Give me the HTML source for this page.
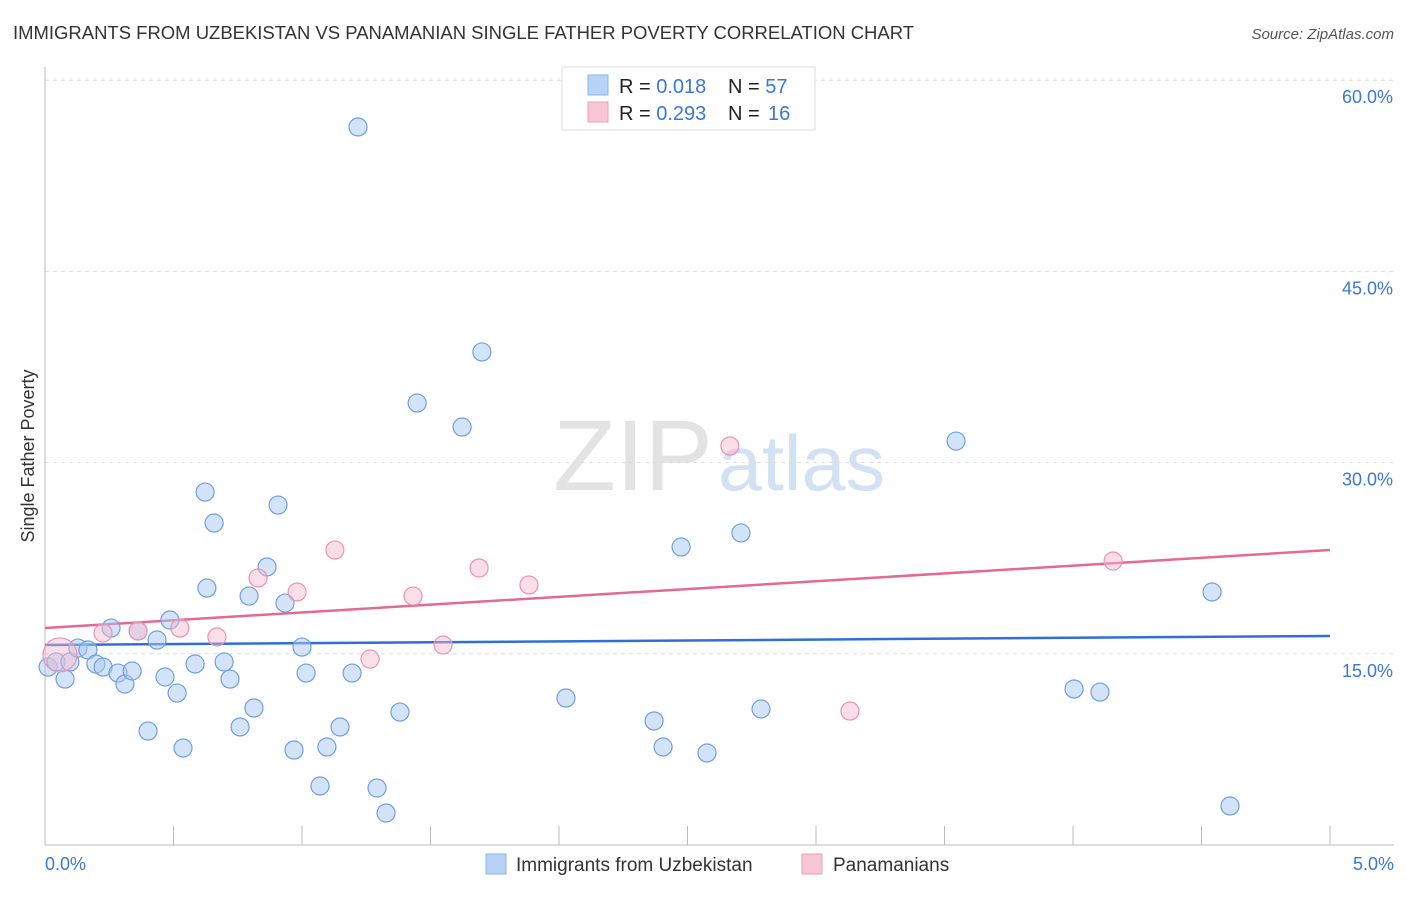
<!DOCTYPE html>
<html><head><meta charset="utf-8"><style>
body{margin:0;background:#fff;font-family:"Liberation Sans",sans-serif;}
svg text{font-family:"Liberation Sans",sans-serif;}
</style></head><body>
<svg id="chart" width="1406" height="892" xmlns="http://www.w3.org/2000/svg">
<text x="13" y="39" font-size="18" fill="#333" textLength="901" lengthAdjust="spacingAndGlyphs">IMMIGRANTS FROM UZBEKISTAN VS PANAMANIAN SINGLE FATHER POVERTY CORRELATION CHART</text>
<text x="1394" y="39" font-size="15" fill="#555" font-style="italic" text-anchor="end">Source: ZipAtlas.com</text>
<text transform="translate(34,456) rotate(-90)" font-size="18" fill="#333" text-anchor="middle">Single Father Poverty</text>
<text x="553" y="490" font-size="100" fill="#ddd" font-family="Liberation Serif" opacity="0.8" textLength="160" lengthAdjust="spacingAndGlyphs">ZIP</text>
<text x="718" y="490" font-size="78" fill="#c8daf2" opacity="0.8" textLength="167" lengthAdjust="spacingAndGlyphs">atlas</text>
<g id="grid"></g>
<g id="axes"></g>
<g id="lines"></g>
<g id="pts"></g>
<g>
<rect x="562" y="67" width="253" height="63" fill="#fff" stroke="#ddd"/>
<rect x="588" y="75" width="20" height="20" fill="#b8d3f5" stroke="#8ab4ea"/>
<rect x="588" y="102" width="20" height="20" fill="#f9c6d5" stroke="#ee9fb9"/>
<text x="619" y="93" font-size="20" fill="#222">R = <tspan fill="#3a78d4">0.018</tspan><tspan x="728">N = </tspan><tspan fill="#3a78d4">57</tspan></text>
<text x="619" y="120" font-size="20" fill="#222">R = <tspan fill="#3a78d4">0.293</tspan><tspan x="728">N = </tspan><tspan fill="#3a78d4" x="768">16</tspan></text>
</g>
<g>
<rect x="486" y="854" width="20" height="20" fill="#b8d3f5" stroke="#8ab4ea"/>
<text x="516" y="871" font-size="19" fill="#333">Immigrants from Uzbekistan</text>
<rect x="802" y="854" width="20" height="20" fill="#f9c6d5" stroke="#ee9fb9"/>
<text x="833" y="871" font-size="19" fill="#333">Panamanians</text>
</g>
</svg>
<script>
const blueX=[0.012,0.043,0.078,0.097,0.128,0.167,0.198,0.226,0.257,0.284,0.311,0.339,0.362,0.401,0.436,0.467,0.486,0.514,0.537,0.584,0.623,0.630,0.658,0.697,0.720,0.759,0.794,0.813,0.864,0.907,0.934,0.969,1.000,1.016,1.070,1.097,1.148,1.195,1.218,1.292,1.327,1.381,1.448,1.623,1.700,2.027,2.370,2.405,2.475,2.576,2.708,2.786,3.545,4.004,4.105,4.541,4.611];
const blueY=[13.96,14.36,13.02,14.36,15.45,15.30,14.20,13.96,17.02,13.49,12.63,13.65,16.79,8.94,16.08,13.18,17.65,11.92,7.61,14.20,27.69,20.16,25.26,14.36,13.02,9.26,19.53,10.75,21.81,26.67,18.98,7.45,15.53,13.49,4.63,7.69,9.26,13.49,56.33,4.47,2.51,10.43,34.67,32.79,38.68,11.53,9.73,7.69,23.38,7.22,24.48,10.67,31.69,12.24,12.00,19.85,3.06];
const pinkX=[0.058,0.226,0.362,0.525,0.669,0.829,0.981,1.128,1.265,1.432,1.549,1.689,1.883,2.665,3.132,4.156];
const pinkY=[14.91,16.63,16.79,17.02,16.32,20.95,19.85,23.14,14.59,19.53,15.69,21.73,20.40,31.30,10.51,22.28];
const blueTrend=[15.69,16.40];
const pinkTrend=[17.02,23.14];
const yTicks=[15,30,45,60];
const xTicks=[0,0.5,1,1.5,2,2.5,3,3.5,4,4.5,5];
const NS="http://www.w3.org/2000/svg";
const sx=v=>45+v/5*1285;
const sy=v=>845-v/15*191.2;
function mk(t,a,p){const e=document.createElementNS(NS,t);for(const k in a)e.setAttribute(k,a[k]);p.appendChild(e);return e;}
const grid=document.getElementById('grid'),axes=document.getElementById('axes');
yTicks.forEach(t=>{
 const l=mk('line',{x1:45,x2:1394,y1:sy(t),y2:sy(t),stroke:'#ddd','stroke-dasharray':'4,4'},grid);
 
 
 const tx=mk('text',{x:1393,y:sy(t)+23,'font-size':18,fill:'#3a78d4','text-anchor':'end'},axes);
 tx.textContent=t.toFixed(1)+'%';
 
 
});
const ax=mk('line',{x1:45,x2:1394,y1:845,y2:845,stroke:'#bbb'},axes);


const ay=mk('line',{x1:45,x2:45,y1:67,y2:845,stroke:'#bbb'},axes);


xTicks.forEach((t,i)=>{if(i==0)return;
 const l=mk('line',{x1:sx(t),x2:sx(t),y1:826,y2:845,stroke:'#bbb'},axes);
 
 
});
[[0,'0.0%','start',45],[5,'5.0%','end',1394]].forEach(d=>{
 const tx=mk('text',{x:d[3],y:870,'font-size':18,fill:'#3a78d4','text-anchor':d[2]},axes);
 tx.textContent=d[1];
 
 
});
const pts=document.getElementById('pts');
blueX.forEach((x,i)=>{
 const c=mk('circle',{cx:sx(x),cy:sy(blueY[i]),r:9,fill:'rgba(170,202,242,0.5)',stroke:'#6f9fe0','stroke-width':1.2},pts);
 
 
});
pinkX.forEach((x,i)=>{
 const c=mk('circle',{cx:sx(x),cy:sy(pinkY[i]),r:i==0?17:9,fill:'rgba(246,184,204,0.45)',stroke:'#eb93b0','stroke-width':1.2},pts);
 
 
});
const lg=document.getElementById('lines');
const bl=mk('line',{x1:sx(0),x2:sx(5),y1:sy(blueTrend[0]),y2:sy(blueTrend[1]),stroke:'#2f6fd6','stroke-width':2.5},lg);


const pl=mk('line',{x1:sx(0),x2:sx(5),y1:sy(pinkTrend[0]),y2:sy(pinkTrend[1]),stroke:'#e46a93','stroke-width':2.5},lg);


</script>
</body></html>
